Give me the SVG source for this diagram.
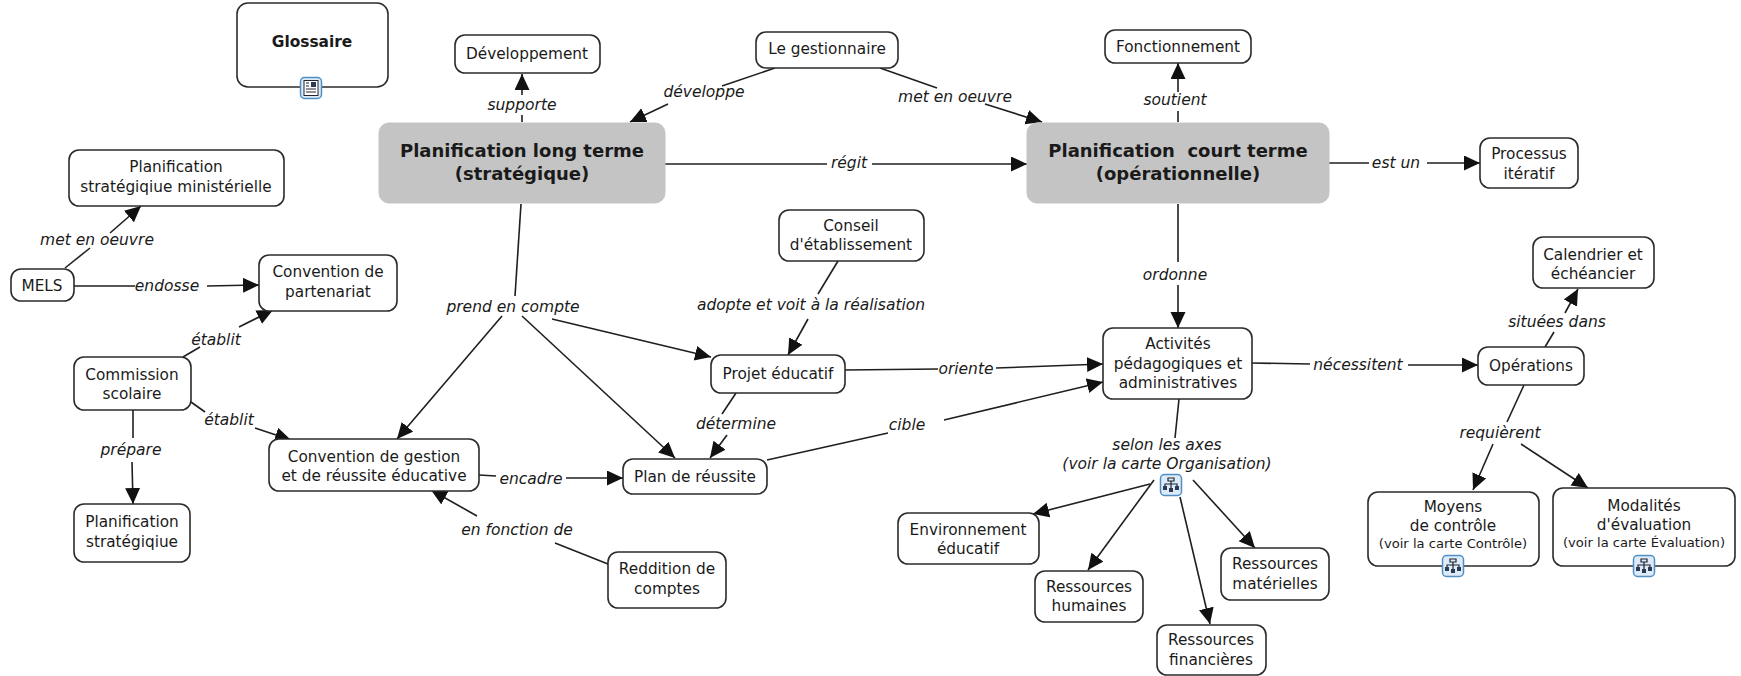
<svg xmlns="http://www.w3.org/2000/svg" width="1741" height="676" viewBox="0 0 1741 676">
<style>
text{font-family:"DejaVu Sans",Verdana,sans-serif;font-size:15.3px;fill:#1a1a1a;text-anchor:middle}
.n{fill:#fff;stroke:#2b2b2b;stroke-width:1.6}
.m{fill:#c4c4c4;stroke:#c4c4c4}
.h{font-weight:bold;font-size:18px}
.b{font-weight:bold;font-size:15.4px}
.s{font-size:13.1px}
.l text{font-style:italic;font-size:15.5px}
#connectors line{stroke:#1f1f1f;stroke-width:1.6}
.a{marker-end:url(#ah)}
.ib{fill:#dcebf7;stroke:#4f8fc4;stroke-width:1.5}
.ig{fill:none;stroke:#223;stroke-width:1.2}
.id{fill:#2b3a55}
</style>
<defs>
<marker id="ah" markerUnits="userSpaceOnUse" markerWidth="17" markerHeight="16" refX="16" refY="7.500" orient="auto"><path d="M0 0L16 7.500L0 15z" fill="#111"/></marker>
<g id="cm"><rect class="ib" x="-10.500" y="-10.500" width="21" height="21" rx="4"/><path class="ig" d="M-3-7H3V-4H-3zM0-4V-1M-6 1V-1H6V1M0-1V6"/><rect class="id" x="-8" y="1" width="4" height="4"/><rect class="id" x="-2" y="3" width="4" height="4"/><rect class="id" x="4" y="1" width="4" height="4"/></g>
<g id="doc"><rect class="ib" x="-10.500" y="-10.500" width="21" height="21" rx="4"/><rect x="-7" y="-7.500" width="14" height="15" fill="#fff" stroke="#223"/><rect class="id" x="0" y="-6" width="5" height="5"/><path class="ig" d="M-5-5H-2M-5-2H-2M-5 1H5M-5 4H5"/></g>
</defs>
<rect width="1741" height="676" fill="#fff"/>
<g id="connectors">
<line x1="522" y1="122" x2="522" y2="115"/><line class="a" x1="522" y1="95" x2="522" y2="74"/>
<line x1="775" y1="68" x2="722" y2="86"/><line class="a" x1="668" y1="104" x2="630" y2="122"/>
<line x1="880" y1="68" x2="937" y2="88"/><line class="a" x1="985" y1="104" x2="1042" y2="122"/>
<line x1="665" y1="164" x2="827" y2="164"/><line class="a" x1="872" y1="164" x2="1027" y2="164"/>
<line x1="1178" y1="122" x2="1178" y2="111"/><line class="a" x1="1178" y1="92" x2="1178" y2="63"/>
<line x1="1329" y1="163" x2="1369" y2="163"/><line class="a" x1="1427" y1="163" x2="1480" y2="163"/>
<line x1="1178" y1="204" x2="1178" y2="262"/><line class="a" x1="1178" y1="285" x2="1178" y2="328"/>
<line x1="521" y1="204" x2="515" y2="296"/>
<line class="a" x1="502" y1="316" x2="397" y2="439"/>
<line class="a" x1="522" y1="316" x2="675" y2="458"/>
<line class="a" x1="552" y1="319" x2="711" y2="357"/>
<line x1="65" y1="268" x2="90" y2="248"/><line class="a" x1="110" y1="233" x2="141" y2="206"/>
<line x1="74" y1="286" x2="135" y2="286"/><line class="a" x1="207" y1="286" x2="259" y2="285"/>
<line x1="183" y1="357" x2="200" y2="347"/><line class="a" x1="239" y1="327" x2="273" y2="310"/>
<line x1="191" y1="402" x2="205" y2="412"/><line class="a" x1="255" y1="428" x2="291" y2="440"/>
<line x1="133" y1="410" x2="133" y2="438"/><line class="a" x1="132" y1="462" x2="133" y2="504"/>
<line x1="479" y1="475" x2="496" y2="476"/><line class="a" x1="566" y1="478" x2="623" y2="478"/>
<line x1="613" y1="566" x2="555" y2="543"/><line class="a" x1="477" y1="516" x2="431" y2="490"/>
<line x1="838" y1="261" x2="818" y2="294"/><line class="a" x1="808" y1="319" x2="788" y2="355"/>
<line x1="845" y1="370" x2="938" y2="369"/><line class="a" x1="996" y1="368" x2="1103" y2="364"/>
<line x1="736" y1="393" x2="722" y2="414"/><line class="a" x1="727" y1="435" x2="710" y2="458"/>
<line x1="767" y1="460" x2="888" y2="433"/><line class="a" x1="944" y1="420" x2="1103" y2="382"/>
<line x1="1252" y1="363" x2="1310" y2="364"/><line class="a" x1="1408" y1="365" x2="1478" y2="365"/>
<line x1="1545" y1="347" x2="1554" y2="332"/><line class="a" x1="1565" y1="313" x2="1578" y2="289"/>
<line x1="1524" y1="385" x2="1507" y2="422"/><line class="a" x1="1493" y1="444" x2="1473" y2="490"/>
<line class="a" x1="1521" y1="444" x2="1588" y2="488"/>
<line x1="1179" y1="399" x2="1175" y2="438"/>
<line class="a" x1="1150" y1="484" x2="1033" y2="514"/>
<line class="a" x1="1154" y1="480" x2="1088" y2="570"/>
<line class="a" x1="1180" y1="497" x2="1210" y2="624"/>
<line class="a" x1="1193" y1="480" x2="1255" y2="548"/>
</g>
<g id="labels" class="l">
<text x="522" y="110">supporte</text>
<text x="704" y="97">développe</text>
<text x="955" y="102">met en oeuvre</text>
<text x="849" y="168">régit</text>
<text x="1175" y="105">soutient</text>
<text x="1396" y="168">est un</text>
<text x="1175" y="280">ordonne</text>
<text x="513" y="312">prend en compte</text>
<text x="97" y="245">met en oeuvre</text>
<text x="167" y="291">endosse</text>
<text x="216" y="345">établit</text>
<text x="229" y="425">établit</text>
<text x="131" y="455">prépare</text>
<text x="531" y="484">encadre</text>
<text x="517" y="535">en fonction de</text>
<text x="811" y="310">adopte et voit à la réalisation</text>
<text x="966" y="374">oriente</text>
<text x="736" y="429">détermine</text>
<text x="907" y="430">cible</text>
<text x="1358" y="370">nécessitent</text>
<text x="1557" y="327">situées dans</text>
<text x="1500" y="438">requièrent</text>
<text x="1167" y="450">selon les axes</text>
<text x="1167" y="469">(voir la carte Organisation)</text>
</g>
<g id="n-glossaire"><rect class="n" x="237" y="3" width="151" height="84" rx="11"/><text class="b" x="312" y="47">Glossaire</text><use href="#doc" x="311" y="88"/></g>
<g id="n-developpement"><rect class="n" x="455" y="35" width="145" height="38" rx="10"/><text x="527" y="59">Développement</text></g>
<g id="n-gestionnaire"><rect class="n" x="756" y="32" width="142" height="36" rx="10"/><text x="827" y="54">Le gestionnaire</text></g>
<g id="n-fonctionnement"><rect class="n" x="1105" y="30" width="146" height="33" rx="10"/><text x="1178" y="52">Fonctionnement</text></g>
<g id="n-long"><rect class="m" x="379" y="123" width="286" height="80" rx="10"/><text class="h" x="522" y="157">Planification long terme</text><text class="h" x="522" y="180">(stratégique)</text></g>
<g id="n-court"><rect class="m" x="1027" y="123" width="302" height="80" rx="10"/><text class="h" x="1178" y="157" xml:space="preserve">Planification  court terme</text><text class="h" x="1178" y="180">(opérationnelle)</text></g>
<g id="n-processus"><rect class="n" x="1480" y="138" width="98" height="50" rx="10"/><text x="1529" y="159">Processus</text><text x="1529" y="179">itératif</text></g>
<g id="n-psm"><rect class="n" x="69" y="150" width="215" height="56" rx="10"/><text x="176" y="172">Planification</text><text x="176" y="192">stratégiqiue ministérielle</text></g>
<g id="n-mels"><rect class="n" x="11" y="269" width="63" height="32" rx="10"/><text x="42" y="291">MELS</text></g>
<g id="n-partenariat"><rect class="n" x="259" y="255" width="138" height="56" rx="10"/><text x="328" y="277">Convention de</text><text x="328" y="297">partenariat</text></g>
<g id="n-commission"><rect class="n" x="74" y="357" width="117" height="53" rx="10"/><text x="132" y="380">Commission</text><text x="132" y="399">scolaire</text></g>
<g id="n-conseil"><rect class="n" x="779" y="210" width="145" height="51" rx="10"/><text x="851" y="231">Conseil</text><text x="851" y="250">d'établissement</text></g>
<g id="n-projet"><rect class="n" x="711" y="355" width="134" height="38" rx="10"/><text x="778" y="379">Projet éducatif</text></g>
<g id="n-activites"><rect class="n" x="1103" y="328" width="149" height="71" rx="10"/><text x="1178" y="349">Activités</text><text x="1178" y="369">pédagogiques et</text><text x="1178" y="388">administratives</text></g>
<g id="n-calendrier"><rect class="n" x="1533" y="237" width="121" height="51" rx="10"/><text x="1593" y="260">Calendrier et</text><text x="1593" y="279">échéancier</text></g>
<g id="n-operations"><rect class="n" x="1478" y="347" width="106" height="38" rx="10"/><text x="1531" y="371">Opérations</text></g>
<g id="n-gestion"><rect class="n" x="269" y="439" width="210" height="52" rx="10"/><text x="374" y="462">Convention de gestion</text><text x="374" y="481">et de réussite éducative</text></g>
<g id="n-reussite"><rect class="n" x="623" y="459" width="144" height="35" rx="10"/><text x="695" y="482">Plan de réussite</text></g>
<g id="n-strategique"><rect class="n" x="74" y="504" width="116" height="58" rx="10"/><text x="132" y="527">Planification</text><text x="132" y="547">stratégiqiue</text></g>
<g id="n-reddition"><rect class="n" x="608" y="552" width="118" height="56" rx="10"/><text x="667" y="574">Reddition de</text><text x="667" y="594">comptes</text></g>
<g id="n-environnement"><rect class="n" x="898" y="513" width="141" height="51" rx="10"/><text x="968" y="535">Environnement</text><text x="968" y="554">éducatif</text></g>
<g id="n-humaines"><rect class="n" x="1035" y="571" width="108" height="51" rx="10"/><text x="1089" y="592">Ressources</text><text x="1089" y="611">humaines</text></g>
<g id="n-materielles"><rect class="n" x="1221" y="548" width="108" height="52" rx="10"/><text x="1275" y="569">Ressources</text><text x="1275" y="589">matérielles</text></g>
<g id="n-financieres"><rect class="n" x="1157" y="625" width="109" height="50" rx="10"/><text x="1211" y="645">Ressources</text><text x="1211" y="665">financières</text></g>
<g id="n-moyens"><rect class="n" x="1368" y="492" width="171" height="74" rx="10"/><text x="1453" y="512">Moyens</text><text x="1453" y="531">de contrôle</text><text class="s" x="1453" y="548">(voir la carte Contrôle)</text><use href="#cm" x="1453" y="566"/></g>
<g id="n-modalites"><rect class="n" x="1553" y="488" width="182" height="78" rx="10"/><text x="1644" y="511">Modalités</text><text x="1644" y="530">d'évaluation</text><text class="s" x="1644" y="547">(voir la carte Évaluation)</text><use href="#cm" x="1644" y="566"/></g>
<g id="n-organisation"><use href="#cm" x="1171" y="485"/></g>
</svg>
